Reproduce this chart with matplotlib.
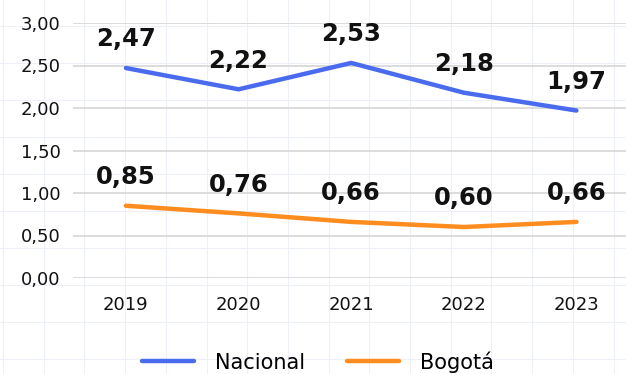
import numpy as np
import matplotlib
matplotlib.use("Agg")
import matplotlib.pyplot as plt
from matplotlib.lines import Line2D

years = ["2019", "2020", "2021", "2022", "2023"]
nacional = [2.47, 2.22, 2.53, 2.18, 1.97]
bogota = [0.85, 0.76, 0.66, 0.60, 0.66]
y_ticks = [0.0, 0.5, 1.0, 1.5, 2.0, 2.5, 3.0]

BLUE = "#4b6bef"
ORANGE = "#ff8c1f"
FONT = ["DejaVu Sans"]


def coma(v):
    return f"{v:.2f}".replace(".", ",")


W, H = 626, 374
fig = plt.figure(figsize=(W / 100, H / 100), dpi=100)
fig.patch.set_facecolor("white")

# faint sheet-style background grid
for px in np.arange(3, W, 40.7):
    fig.add_artist(Line2D([px / W, px / W], [0, 1], transform=fig.transFigure,
                          color="#eef0f8", lw=0.8, zorder=0))
for py in np.arange(26, H, 37):
    fig.add_artist(Line2D([0, 1], [1 - py / H, 1 - py / H], transform=fig.transFigure,
                          color="#eef0f8", lw=0.8, zorder=0))

ax = fig.add_axes([73 / W, 1 - 278 / H, (W - 73) / W, 255 / H])
ax.set_facecolor("none")

x = np.arange(len(years))
ax.plot(x, nacional, color=BLUE, lw=3.2, solid_capstyle="round", label="Nacional", zorder=3)
ax.plot(x, bogota, color=ORANGE, lw=3.2, solid_capstyle="round", label="Bogotá", zorder=3)

for series in (nacional, bogota):
    for xi, v in zip(x, series):
        ax.annotate(coma(v), (xi, v), xytext=(0, 12), textcoords="offset points",
                    ha="center", va="bottom", fontsize=17.5, fontweight="bold",
                    family=FONT, color="#111111")

ax.set_xlim(-0.47, 4.44)
ax.set_ylim(0, 3.0)
ax.set_yticks(y_ticks)
ax.set_yticklabels([coma(v) for v in y_ticks], family=FONT, fontsize=13, color="#111111")
ax.set_xticks(x)
ax.set_xticklabels(years, family=FONT, fontsize=13, color="#111111")
ax.tick_params(axis="both", length=0)
ax.tick_params(axis="y", pad=9)
ax.tick_params(axis="x", pad=13)
ax.yaxis.grid(True, color="#d9d9d9", lw=1.3, zorder=1)
ax.set_axisbelow(True)
for s in ax.spines.values():
    s.set_visible(False)

fig.legend(handles=ax.get_lines(), loc="center", bbox_to_anchor=(318 / W, 1 - 362 / H),
           ncol=2, frameon=False, handlelength=2.5, handletextpad=1.0, columnspacing=2.0,
           prop={"family": FONT, "size": 15})

fig.savefig("out.png", dpi=100, facecolor="white")
